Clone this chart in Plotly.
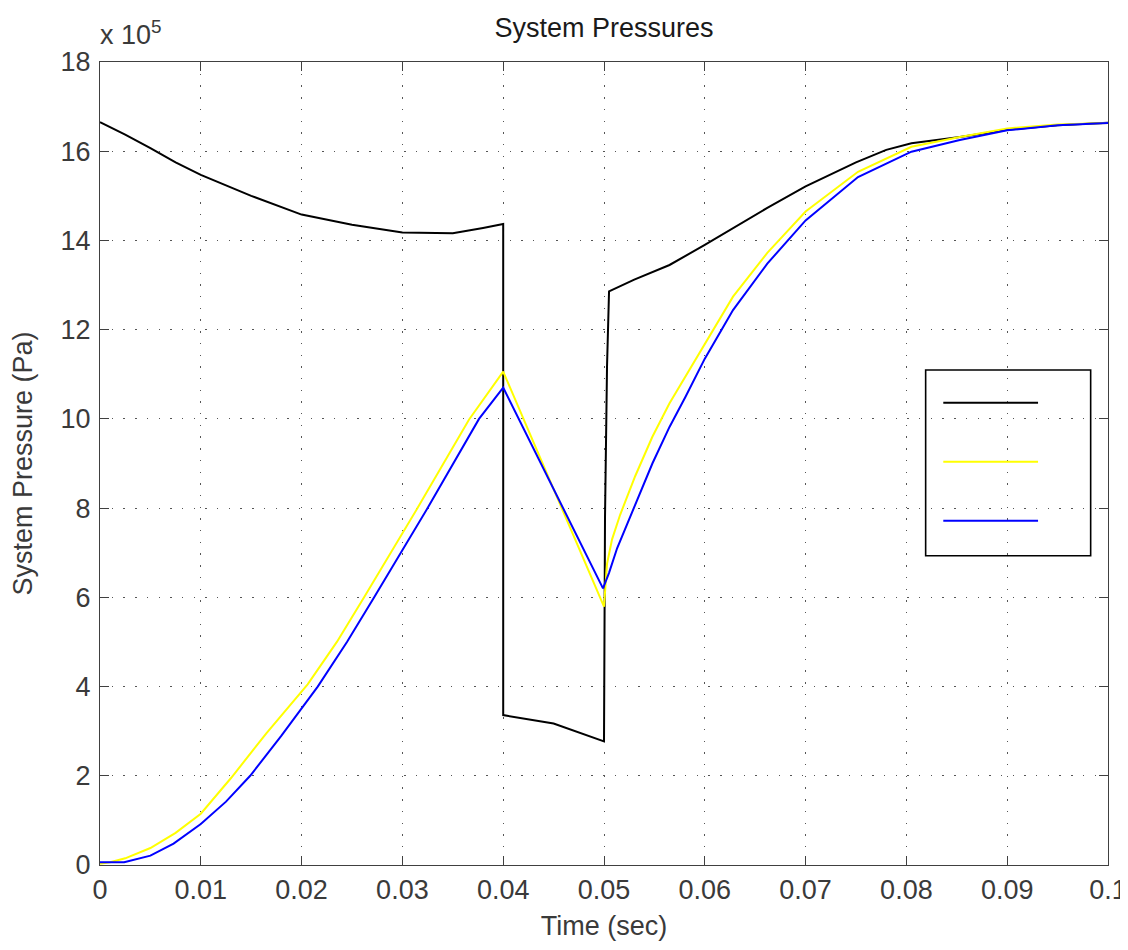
import plotly.graph_objects as go

# ---- data (pressure in units of 1e5 Pa, time in s) ----
t_black = [0, 0.0025, 0.005, 0.0075, 0.01, 0.015, 0.02, 0.025, 0.03, 0.035, 0.038, 0.0399,
           0.04, 0.04, 0.045, 0.05, 0.0501, 0.0503, 0.0505, 0.053, 0.0565, 0.06, 0.0628,
           0.0662, 0.07, 0.075, 0.078, 0.0805, 0.0853, 0.09, 0.095, 0.1]
p_black = [16.65, 16.37, 16.07, 15.75, 15.47, 15.0, 14.58, 14.35, 14.18, 14.16, 14.28, 14.37,
           14.37, 3.36, 3.17, 2.77, 7.8, 11.17, 12.86, 13.12, 13.45, 13.9, 14.28,
           14.73, 15.21, 15.75, 16.03, 16.18, 16.32, 16.48, 16.58, 16.64]

t_yellow = [0, 0.001, 0.0025, 0.005, 0.0075, 0.01, 0.013, 0.0165, 0.0206, 0.0235, 0.0262, 0.0315,
            0.0366, 0.04, 0.05, 0.0503, 0.0508, 0.0516, 0.0531, 0.0548, 0.0565, 0.0581, 0.06,
            0.0628, 0.0662, 0.07, 0.0752, 0.0805, 0.0853, 0.09, 0.095, 0.1]
p_yellow = [0.03, 0.06, 0.15, 0.38, 0.72, 1.15, 1.95, 2.95, 4.05, 5.0, 6.0, 8.0,
            9.98, 11.06, 5.79, 6.75, 7.3, 7.85, 8.72, 9.6, 10.35, 10.95, 11.66,
            12.74, 13.72, 14.65, 15.54, 16.1, 16.32, 16.51, 16.6, 16.63]

t_blue = [0, 0.0024, 0.005, 0.0073, 0.01, 0.0125, 0.0149, 0.018, 0.0216, 0.0245, 0.0272, 0.0325,
          0.0376, 0.04, 0.0499, 0.0505, 0.0513, 0.0531, 0.0548, 0.0565, 0.0581, 0.06,
          0.0628, 0.0662, 0.07, 0.0752, 0.0805, 0.0853, 0.09, 0.095, 0.1]
p_blue = [0.06, 0.06, 0.21, 0.48, 0.92, 1.42, 2.0, 2.9, 4.0, 5.0, 6.0, 8.0,
          10.0, 10.7, 6.2, 6.55, 7.1, 8.1, 9.0, 9.82, 10.5, 11.35,
          12.44, 13.48, 14.45, 15.42, 15.99, 16.25, 16.47, 16.58, 16.63]

x_tick_vals = [0, 0.01, 0.02, 0.03, 0.04, 0.05, 0.06, 0.07, 0.08, 0.09, 0.1]
x_tick_text = ["0", "0.01", "0.02", "0.03", "0.04", "0.05", "0.06", "0.07", "0.08", "0.09", "0.1"]
y_tick_vals = [0, 2, 4, 6, 8, 10, 12, 14, 16, 18]
y_tick_text = ["0", "2", "4", "6", "8", "10", "12", "14", "16", "18"]

series_colors = ["#000000", "#FFFF00", "#0000FF"]

FONT = "Liberation Sans, Arial, sans-serif"
TXT = "#3a3a3a"

fig = go.Figure()
for t, p, c in [(t_black, p_black, series_colors[0]),
                (t_yellow, p_yellow, series_colors[1]),
                (t_blue, p_blue, series_colors[2])]:
    fig.add_trace(go.Scatter(x=t, y=p, mode="lines", line=dict(color=c, width=2),
                             showlegend=False, hoverinfo="skip"))

axis_common = dict(
    showline=True, linecolor="#404040", linewidth=1.2, mirror="ticks",
    ticks="inside", ticklen=9, tickcolor="#404040", tickwidth=1.2,
    showgrid=True, gridcolor="#555555", gridwidth=1.4, griddash="1.4px,10.3px",
    zeroline=False, tickfont=dict(family=FONT, size=27, color=TXT),
    automargin=False,
)

fig.update_xaxes(range=[0, 0.1], tickvals=x_tick_vals, ticktext=x_tick_text,
                 title=dict(text="Time (sec)", font=dict(family=FONT, size=27, color=TXT), standoff=12),
                 **axis_common)
fig.update_yaxes(range=[0, 18], tickvals=y_tick_vals, ticktext=y_tick_text, ticklabelstandoff=3,
                 title=dict(text="System Pressure (Pa)", font=dict(family=FONT, size=27, color=TXT), standoff=20),
                 **axis_common)

# legend box (MATLAB style, empty labels)
lx0, lx1, ly0, ly1 = 0.8191, 0.9828, 0.3852, 0.6164
sx0, sx1 = 0.8366, 0.9306
sy = [0.5757, 0.5022, 0.4288]
shapes = [dict(type="rect", xref="paper", yref="paper", x0=lx0, x1=lx1, y0=ly0, y1=ly1,
               line=dict(color="#000000", width=1.6), fillcolor="rgba(0,0,0,0)")]
for yy, c in zip(sy, series_colors):
    shapes.append(dict(type="line", xref="paper", yref="paper", x0=sx0, x1=sx1, y0=yy, y1=yy,
                       line=dict(color=c, width=2)))

fig.update_layout(
    width=1128, height=950,
    margin=dict(l=92, r=28, t=54, b=93, autoexpand=False),
    paper_bgcolor="white", plot_bgcolor="white",
    title=dict(text="System Pressures", x=596 / 1128, xanchor="center",
               y=1 - 20 / 950, yanchor="middle", yref="container", automargin=False,
               font=dict(family=FONT, size=27, color="#1a1a1a")),
    shapes=shapes,
    annotations=[dict(text="x 10<sup>5</sup>", xref="paper", yref="paper", x=-0.002, y=1.012,
                      xanchor="left", yanchor="bottom", showarrow=False,
                      font=dict(family=FONT, size=27, color=TXT))],
)

fig.write_html("out.html")
